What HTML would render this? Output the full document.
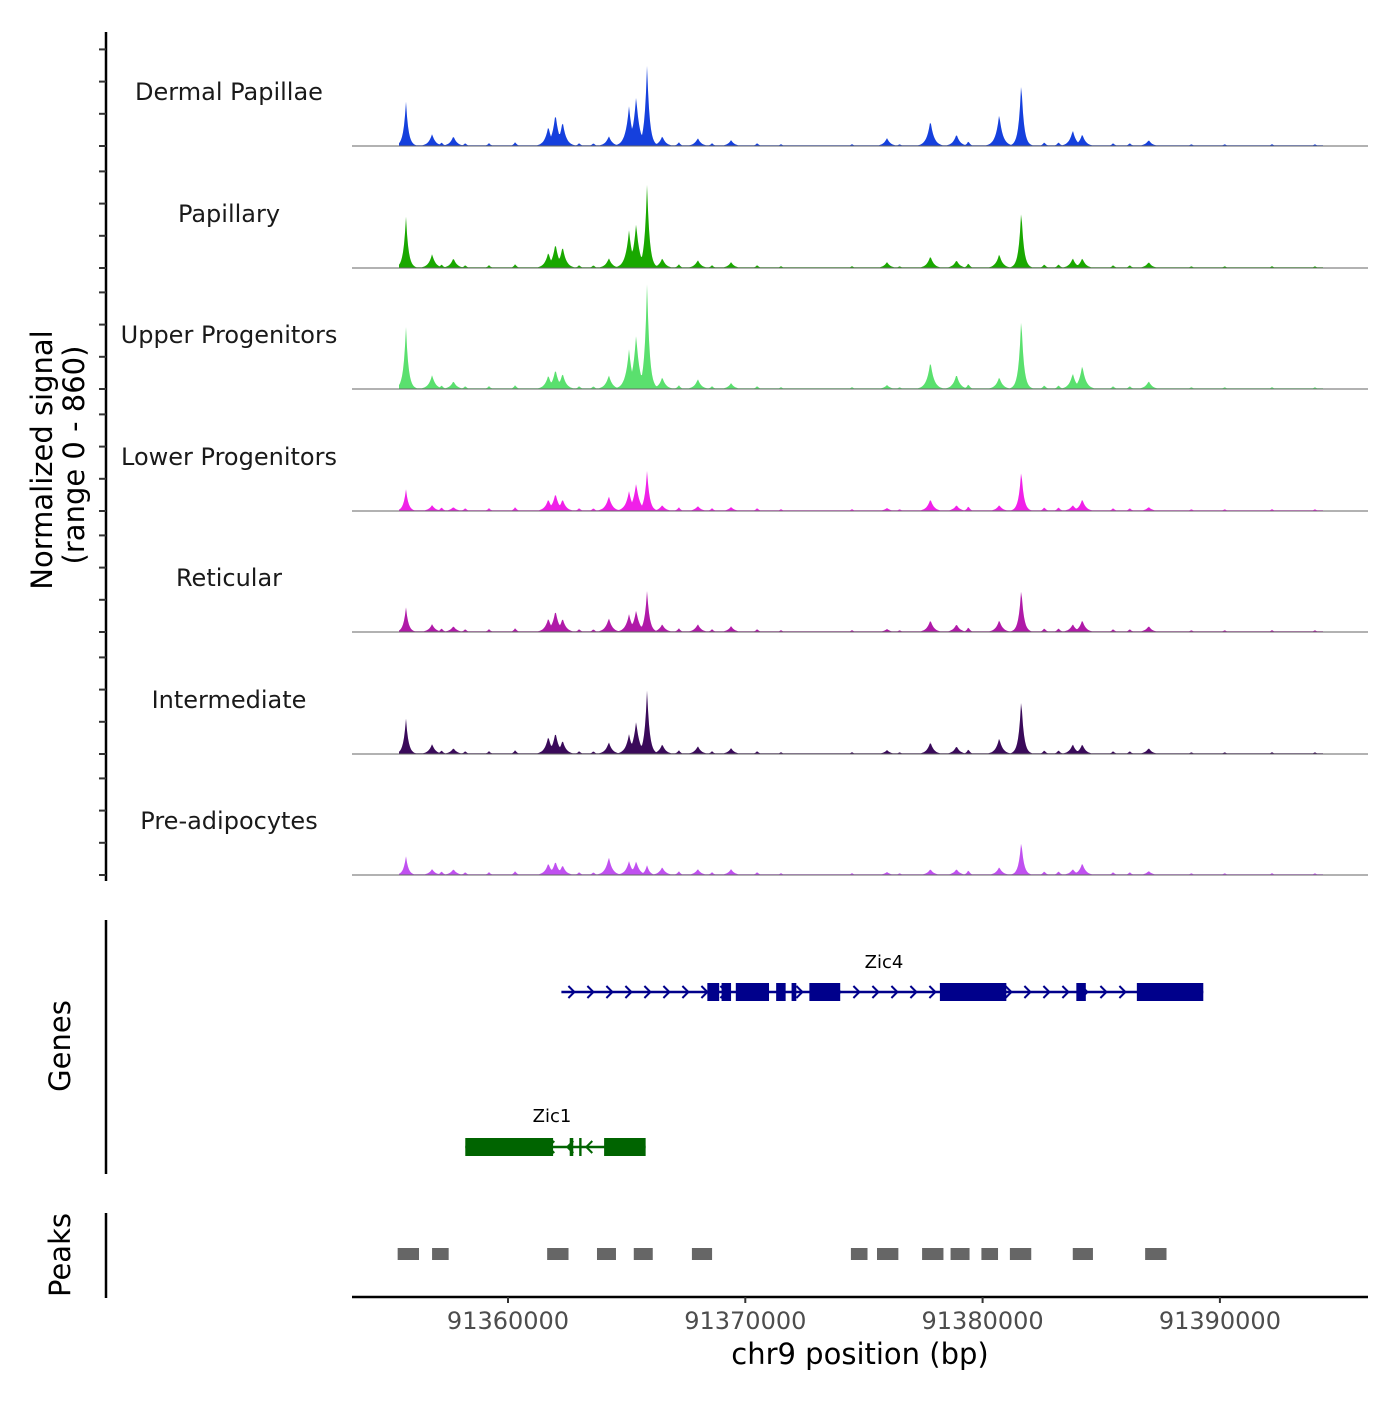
<!DOCTYPE html>
<html><head><meta charset="utf-8"><style>
body{margin:0;background:#fff}
svg text{font-family:"DejaVu Sans","Liberation Sans",sans-serif}
</style></head><body>
<svg id="chart" width="1400" height="1400" xmlns="http://www.w3.org/2000/svg">
<g id="tracks"></g>
<g id="genes"></g>
<g id="peaks"></g>
<g id="axes"></g>
</svg>
<script>
const trackNames=["Dermal Papillae","Papillary","Upper Progenitors","Lower Progenitors","Reticular","Intermediate","Pre-adipocytes"];
const trackColors=["#1540dd","#19a800","#5ae06e","#f020e8","#b01aa8","#3a0a5a","#c050f0"];
const peakPos=[91355700,91356800,91357700,91361700,91362000,91362300,91364250,91365100,91365400,91365860,91366500,91368000,91369400,91375970,91377800,91378900,91380700,91381630,91383800,91384200,91387000];
const peakH=[
[45,12,10,20,33,25,10,40,50,82,10,8,6,8,26,12,32,66,16,12,6],
[52,14,10,16,25,22,10,38,45,85,10,8,6,6,12,8,14,60,10,10,6],
[63,14,8,14,20,16,14,40,55,107,12,10,6,4,28,15,12,74,16,24,8],
[22,6,4,12,18,12,15,20,28,41,6,5,4,3,12,6,6,42,6,12,4],
[25,8,6,14,22,14,14,18,22,42,8,8,6,3,12,8,12,45,8,12,6],
[36,10,6,18,22,14,12,20,33,65,10,8,6,4,12,8,16,57,10,10,6],
[19,6,6,12,14,10,18,14,14,10,8,6,6,3,6,6,8,35,6,12,4]];
const minorPos=[91357200,91358200,91359200,91360300,91363000,91363600,91367200,91368600,91370500,91371500,91374500,91376500,91379400,91382600,91383200,91385500,91386200,91388800,91390200,91392200,91394000];
const minorH=[4,3,3,4,3,3,4,3,3,2,2,2,5,4,4,3,3,2,2,2,2];
const ticksX=[91360000,91370000,91380000,91390000];
const geneExons4=[[91368400,91368900],[91369000,91369400],[91369600,91371000],[91371300,91371700],[91371950,91372150],[91372700,91374000],[91378200,91381000],[91383950,91384350],[91386500,91389300]];
const geneExons1=[[91358200,91361900],[91362600,91362750],[91363000,91363100],[91364050,91365800]];
const peakRegions=[[91355350,91356250],[91356800,91357500],[91361650,91362550],[91363750,91364550],[91365300,91366100],[91367750,91368600],[91374450,91375150],[91375550,91376450],[91377450,91378350],[91378650,91379450],[91379950,91380650],[91381150,91382050],[91383800,91384650],[91386850,91387750]];
const NS="http://www.w3.org/2000/svg";
const X=bp=>508+(bp-91360000)*237.3/10000;
function el(t,a,p){const e=document.createElementNS(NS,t);for(const k in a)e.setAttribute(k,a[k]);p.appendChild(e);return e;}
const tracks=document.getElementById('tracks');
const baselines=[146,268,389,511,632,754,875];
trackNames.forEach((n,i)=>{
  const b=baselines[i];
  let d=`M399,${b}`;
  for(let x=399;x<=1323;x++){
    let y=0.8;
    peakPos.forEach((p,j)=>{const c=X(p);const w=j==9||j==17||j==0?2.5:3.5;y=Math.max(y,peakH[i][j]*Math.exp(-Math.abs(x-c)/w));});
    minorPos.forEach((p,j)=>{const c=X(p);y=Math.max(y,minorH[j]*Math.exp(-Math.abs(x-c)/2));});
    d+=`L${x},${(b-y).toFixed(1)}`;
  }
  d+=`L1323,${b}Z`;
  const path=el('path',{d,fill:trackColors[i]},tracks);
  
  
  const ln=el('line',{x1:352,x2:1368,y1:b,y2:b,stroke:'#666','stroke-width':1},tracks);
  
  
  const t=el('text',{x:229,y:b-46,'text-anchor':'middle','font-size':24,fill:'#1a1a1a'},tracks);
  t.textContent=n;
  
  
});
const genes=document.getElementById('genes');
function gene(name,s,e,y,exons,col,dir,lx,ly){
  const g=el('g',{},genes);
  
  
  el('line',{x1:X(s),x2:X(e),y1:y,y2:y,stroke:col,'stroke-width':2.5},g);
  for(let x=X(s)+10;x<X(e)-5;x+=19){
    const a=dir>0?`M${x-3},${y-6}L${x+3},${y}L${x-3},${y+6}`:`M${x+3},${y-6}L${x-3},${y}L${x+3},${y+6}`;
    el('path',{d:a,stroke:col,fill:'none','stroke-width':2},g);
  }
  exons.forEach(ex=>el('rect',{x:X(ex[0]),y:y-9,width:X(ex[1])-X(ex[0]),height:18,fill:col},g));
  const t=el('text',{x:lx,y:ly,'text-anchor':'middle','font-size':18,fill:'#000'},g);t.textContent=name;
}
gene('Zic4',91362250,91389300,992,geneExons4,'#00008b',1,884,968);
gene('Zic1',91358200,91365800,1147,geneExons1,'#006400',-1,552,1122);
const pk=document.getElementById('peaks');
peakRegions.forEach(r=>{const e=el('rect',{x:X(r[0]),y:1248,width:X(r[1])-X(r[0]),height:12,fill:'#666'},pk);

});
const ax=document.getElementById('axes');
el('line',{x1:106,x2:106,y1:32,y2:881,stroke:'#000','stroke-width':2.5},ax);
baselines.forEach(b=>{for(let k=0;k<4;k++){const y=b-k*32.2;el('line',{x1:99,x2:106,y1:y,y2:y,stroke:'#333','stroke-width':2},ax);}});
el('line',{x1:106,x2:106,y1:920,y2:1174,stroke:'#000','stroke-width':2.5},ax);
el('line',{x1:106,x2:106,y1:1213,y2:1298,stroke:'#000','stroke-width':2.5},ax);
el('line',{x1:352,x2:1368,y1:1297,y2:1297,stroke:'#000','stroke-width':2.5},ax);
ticksX.forEach(v=>{el('line',{x1:X(v),x2:X(v),y1:1297,y2:1303,stroke:'#333','stroke-width':2},ax);
const t=el('text',{x:X(v),y:1329,'text-anchor':'middle','font-size':24,fill:'#4d4d4d'},ax);t.textContent=v;

});
const xt=el('text',{x:860,y:1364,'text-anchor':'middle','font-size':29,fill:'#000'},ax);xt.textContent='chr9 position (bp)';


const yt=el('text',{transform:'translate(52,460) rotate(-90)','text-anchor':'middle','font-size':29,fill:'#000'},ax);yt.textContent='Normalized signal';


const yt2=el('text',{transform:'translate(84,455) rotate(-90)','text-anchor':'middle','font-size':29,fill:'#000'},ax);yt2.textContent='(range 0 - 860)';


const gt=el('text',{transform:'translate(70,1046) rotate(-90)','text-anchor':'middle','font-size':29,fill:'#000'},ax);gt.textContent='Genes';


const pt=el('text',{transform:'translate(70,1255) rotate(-90)','text-anchor':'middle','font-size':29,fill:'#000'},ax);pt.textContent='Peaks';


</script>
</body></html>
